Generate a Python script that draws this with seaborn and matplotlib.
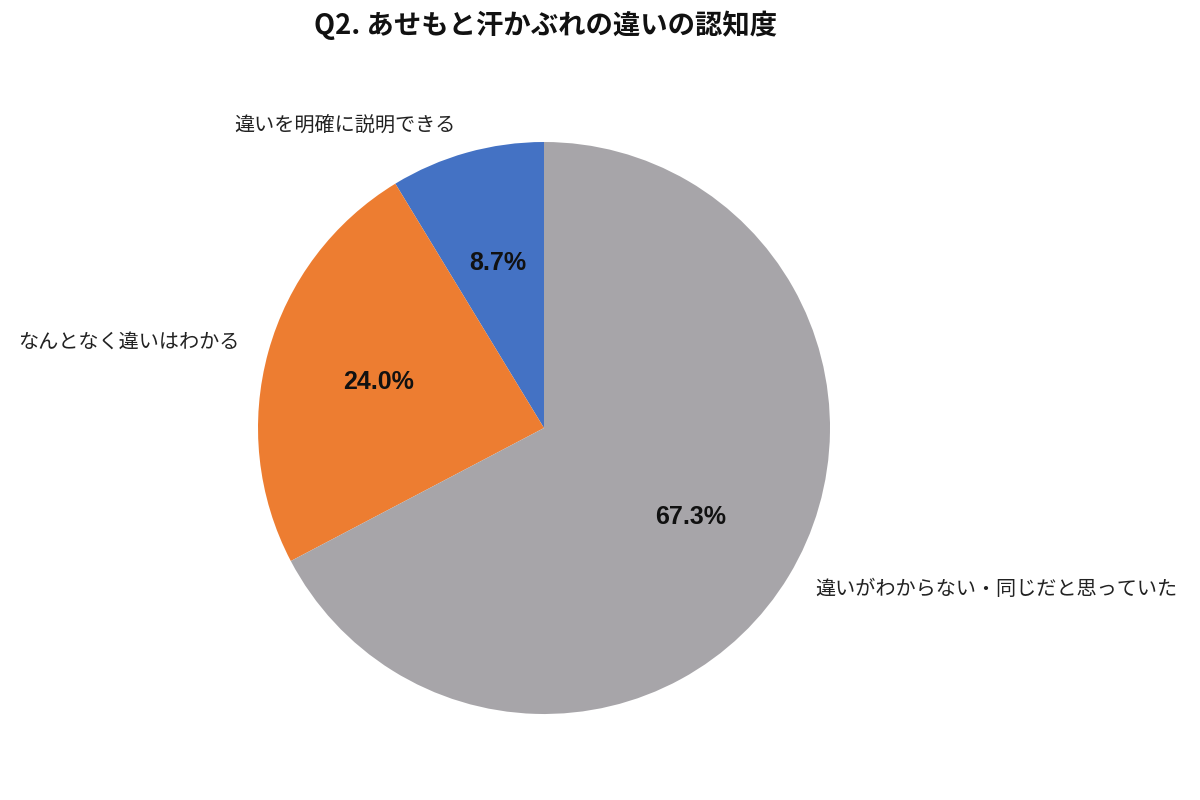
# Q2 pie chart: awareness of difference between heat rash and sweat rash
import matplotlib
matplotlib.use("Agg")
import matplotlib.pyplot as plt
import seaborn as sns

# Data
categories = ["違いを明確に説明できる", "なんとなく違いはわかる", "違いがわからない・同じだと思っていた"]
shares = [8.7, 24.0, 67.3]
colors = ["#4472C4", "#ED7D31", "#A7A5A9"]

sns.set_theme(style="white")
plt.rcParams["font.family"] = ["Noto Sans CJK JP", "DejaVu Sans"]

fig = plt.figure(figsize=(12, 8), dpi=100)
ax = fig.add_axes([0, 0, 1, 1])

wedges, texts, autotexts = ax.pie(
    shares, colors=colors, startangle=90, counterclock=True,
    autopct="%.1f%%", pctdistance=0.6, radius=1.0,
    wedgeprops=dict(linewidth=0),
    textprops=dict(fontsize=18, fontweight="bold", color="#111111",
                   family=["Liberation Sans", "DejaVu Sans"]))

# Category labels placed like the original (Excel style)
label_pos = [(-0.696, 1.059, "center"), (-1.065, 0.30, "right"), (0.947, -0.566, "left")]
for name, (x, y, ha) in zip(categories, label_pos):
    ax.text(x, y, name, ha=ha, va="center", fontsize=14.5, color="#222222")

# 1 data unit = 286 px, pie centre at (544, 428) px from top-left
ax.set_xlim(-544 / 286, (1200 - 544) / 286)
ax.set_ylim(-(800 - 428) / 286, 428 / 286)
ax.set_aspect("auto")
ax.axis("off")

fig.text(0.4545, 0.968, "Q2. あせもと汗かぶれの違いの認知度", ha="center", va="center",
         fontsize=19.7, fontweight="bold", color="#111111")

fig.savefig("out.png", dpi=100, facecolor="white")
